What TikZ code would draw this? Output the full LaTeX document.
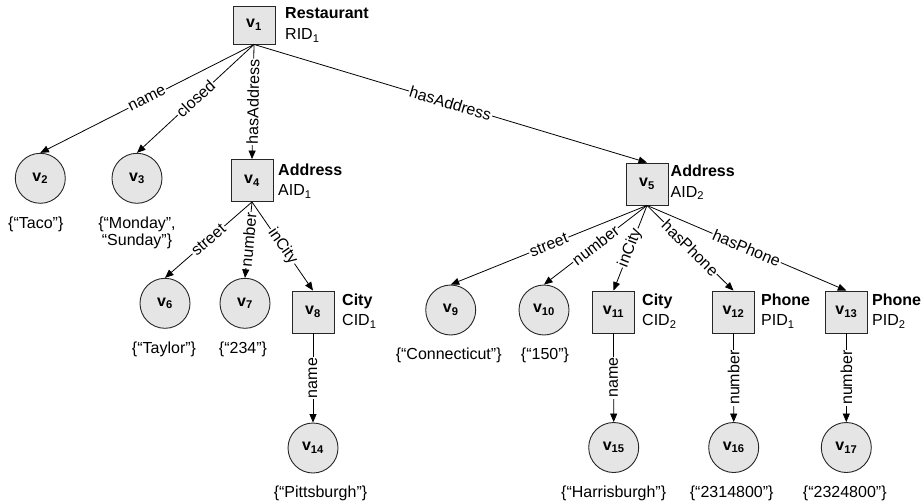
\documentclass[tikz,border=0pt]{standalone}
\usepackage{fontspec}
\setmainfont{Liberation Sans}
\usetikzlibrary{arrows.meta,positioning}
\begin{document}
\begin{tikzpicture}[x=1pt,y=-1pt,
  every node/.style={text=black},
  entity/.style={draw=black!85, fill=black!10, line width=0.9pt,
    minimum width=42pt, minimum height=42pt, inner sep=0pt,
    font=\fontsize{16}{18}\selectfont\bfseries},
  literal/.style={circle, draw=black!85, fill=black!10, line width=0.9pt,
    minimum size=50pt, inner sep=0pt,
    font=\fontsize{16}{18}\selectfont\bfseries},
  typelabel/.style={anchor=west, align=left, inner sep=0pt,
    font=\fontsize{16}{20.5}\selectfont},
  valuelabel/.style={align=center, inner sep=0pt,
    font=\fontsize{16}{17.5}\selectfont},
  rel/.style={draw=black, line width=0.8pt, -{Triangle[length=8.5pt,width=7pt]}},
  rellabel/.style={fill=white, inner sep=1pt, sloped,
    font=\fontsize{16}{16}\selectfont},
  vlabel/.style={fill=white, inner sep=1pt, rotate=90,
    font=\fontsize{16}{16}\selectfont},
]
\useasboundingbox (0,0) rectangle (924,501);

% resources (boxes) and literals (circles)
\node[entity, minimum height=38pt] (v1) at (254,25) {v\textsubscript{1}};
\node[literal] (v2) at (40.3,178.3) {v\textsubscript{2}};
\node[literal] (v3) at (137,178.3) {v\textsubscript{3}};
\node[entity] (v4) at (252,180.5) {v\textsubscript{4}};
\node[entity] (v5) at (647,184) {v\textsubscript{5}};
\node[literal] (v6) at (165,303.3) {v\textsubscript{6}};
\node[literal] (v7) at (245,303.3) {v\textsubscript{7}};
\node[entity] (v8) at (313,312) {v\textsubscript{8}};
\node[literal] (v9) at (450.7,310) {v\textsubscript{9}};
\node[literal] (v10) at (544,310) {v\textsubscript{10}};
\node[entity] (v11) at (613.5,312) {v\textsubscript{11}};
\node[entity] (v12) at (733.5,312) {v\textsubscript{12}};
\node[entity] (v13) at (846.3,312) {v\textsubscript{13}};
\node[literal] (v14) at (313,448) {v\textsubscript{14}};
\node[literal] (v15) at (613.7,447.5) {v\textsubscript{15}};
\node[literal] (v16) at (733.7,447.5) {v\textsubscript{16}};
\node[literal] (v17) at (846.3,447.5) {v\textsubscript{17}};

% class and identifier beside each resource
\node[typelabel] (t1) at (285,25) {\textbf{Restaurant}\\RID\textsubscript{1}};
\node[typelabel] (t4) at (278,181) {\textbf{Address}\\AID\textsubscript{1}};
\node[typelabel] (t5) at (670.5,182.5) {\textbf{Address}\\AID\textsubscript{2}};
\node[typelabel] (t8) at (342,311) {\textbf{City}\\CID\textsubscript{1}};
\node[typelabel] (t11) at (642,311) {\textbf{City}\\CID\textsubscript{2}};
\node[typelabel] (t12) at (761,311) {\textbf{Phone}\\PID\textsubscript{1}};
\node[typelabel] (t13) at (872,311) {\textbf{Phone}\\PID\textsubscript{2}};

% literal values
\node[valuelabel, below=12.5pt of v2, xshift=-4.5pt] (l2) {\{“Taco”\}};
\node[valuelabel, below=12.5pt of v3] (l3) {\{“Monday”,\\“Sunday”\}};
\node[valuelabel, below=12.5pt of v6, xshift=-1pt] (l6) {\{“Taylor”\}};
\node[valuelabel, below=12.5pt of v7, xshift=-2pt] (l7) {\{“234”\}};
\node[valuelabel, below=12.5pt of v9, xshift=-2pt] (l9) {\{“Connecticut”\}};
\node[valuelabel, below=12.5pt of v10, xshift=1pt] (l10) {\{“150”\}};
\node[valuelabel, below=12.5pt of v14, xshift=7.5pt] (l14) {\{“Pittsburgh”\}};
\node[valuelabel, below=12.5pt of v15] (l15) {\{“Harrisburgh”\}};
\node[valuelabel, below=12.5pt of v16, xshift=-2pt] (l16) {\{“2314800”\}};
\node[valuelabel, below=12.5pt of v17, xshift=-1.5pt] (l17) {\{“2324800”\}};

% properties
\draw[rel] (v1.south) -- node[rellabel] {name} (v2.north);
\draw[rel] (v1.south) -- node[rellabel] {closed} (v3.north);
\draw[rel] (v1.south) -- node[rellabel] {hasAddress} (v4.north);
\draw[rel] (v1.south) -- node[rellabel] {hasAddress} (v5.north);

\draw[rel] (v4.south) -- node[rellabel] {street} (v6.north);
\draw[rel] (v4.south) -- node[rellabel] {number} (v7.north);
\draw[rel] (v4.south) -- node[rellabel] {inCity} (v8.north);

\draw[rel] (v5.south) -- node[rellabel] {street} (v9.north);
\draw[rel] (v5.south) -- node[rellabel] {number} (v10.north);
\draw[rel] (v5.south) -- node[rellabel] {inCity} (v11.north);
\draw[rel] (v5.south) -- node[rellabel] {hasPhone} (v12.north);
\draw[rel] (v5.south) -- node[rellabel] {hasPhone} (v13.north);

\draw[rel] (v8.south) -- node[vlabel] {name} (v14.north);
\draw[rel] (v11.south) -- node[vlabel] {name} (v15.north);
\draw[rel] (v12.south) -- node[vlabel] {number} (v16.north);
\draw[rel] (v13.south) -- node[vlabel] {number} (v17.north);
\end{tikzpicture}
\end{document}
